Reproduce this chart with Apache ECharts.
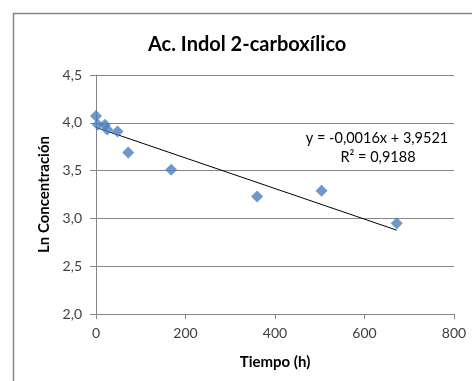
<!DOCTYPE html>
<html>
<head>
<meta charset="utf-8">
<script src="https://cdn.jsdelivr.net/npm/echarts@6/dist/echarts.min.js"></script>
<style>
  html, body { margin: 0; padding: 0; background: #fff; }
  #chart { width: 472px; height: 381px; }
</style>
</head>
<body>
<div id="chart"></div>
<script>
// Time (h) and ln of concentration for each sample
var tiempo = [0, 4, 20, 25, 48, 72, 168, 360, 504, 672];
var lnConc = [4.07, 3.98, 3.98, 3.93, 3.91, 3.69, 3.51, 3.23, 3.29, 2.95];

// Linear fit reported on the chart
var pendiente = -0.0016;
var intercepto = 3.9521;
var r2 = '0,9188';
var ecuacion = 'y = -0,0016x + 3,9521';

var xTicks = [0, 200, 400, 600, 800];
var yTicks = [2.0, 2.5, 3.0, 3.5, 4.0, 4.5];

var puntos = tiempo.map(function (t, i) { return [t, lnConc[i]]; });
var tMax = tiempo[tiempo.length - 1];
var ajuste = [[0, intercepto], [tMax, intercepto + pendiente * tMax]];

var FONT = 'Lato, "Open Sans", sans-serif';
var chart = echarts.init(document.getElementById('chart'));
chart.setOption({
  animation: false,
  backgroundColor: '#ffffff',
  title: {
    text: 'Ac. Indol 2-carboxílico',
    left: 143,
    top: 30,
    textStyle: { fontFamily: FONT, fontSize: 20, fontWeight: 'bold', color: '#000' }
  },
  grid: { left: 96, right: 18, top: 75, bottom: 67 },
  xAxis: {
    type: 'value',
    min: xTicks[0],
    max: xTicks[xTicks.length - 1],
    interval: 200,
    name: 'Tiempo (h)',
    nameLocation: 'middle',
    nameGap: 41,
    nameTextStyle: { fontFamily: FONT, fontSize: 15, fontWeight: 'bold', color: '#000' },
    axisLine: { lineStyle: { color: '#868686', width: 1 } },
    axisTick: { show: true, length: 5, lineStyle: { color: '#868686' } },
    axisLabel: { fontFamily: FONT, fontSize: 14, color: '#404040', margin: 12 },
    splitLine: { show: false }
  },
  yAxis: {
    type: 'value',
    min: yTicks[0],
    max: yTicks[yTicks.length - 1],
    interval: 0.5,
    name: 'Ln Concentración',
    nameLocation: 'middle',
    nameGap: 42,
    nameTextStyle: { fontFamily: FONT, fontSize: 15, fontWeight: 'bold', color: '#000' },
    axisLine: { show: true, lineStyle: { color: '#868686', width: 1 } },
    axisTick: { show: true, length: 6, lineStyle: { color: '#868686' } },
    axisLabel: {
      fontFamily: FONT, fontSize: 14, color: '#404040', margin: 14,
      formatter: function (v) { return v.toFixed(1).replace('.', ','); }
    },
    splitLine: { show: true, lineStyle: { color: '#868686', width: 1 } }
  },
  series: [
    {
      type: 'line',
      data: ajuste,
      showSymbol: false,
      symbol: 'none',
      lineStyle: { color: '#000', width: 1 },
      z: 3
    },
    {
      type: 'scatter',
      data: puntos,
      symbol: 'diamond',
      symbolSize: 12,
      itemStyle: { color: '#4a7ebb' },
      z: 4
    }
  ],
  graphic: [
    {
      type: 'rect',
      shape: { x: 13.5, y: 13.5, width: 480, height: 400 },
      style: { fill: 'none', stroke: '#868686', lineWidth: 1.5 },
      silent: true
    },
    {
      type: 'text',
      x: 377,
      y: 138,
      style: { text: ecuacion, font: '14.5px ' + FONT, fill: '#000', align: 'center', verticalAlign: 'middle' }
    },
    {
      type: 'text',
      x: 378,
      y: 157,
      style: { text: 'R² = ' + r2, font: '14.5px ' + FONT, fill: '#000', align: 'center', verticalAlign: 'middle' }
    }
  ]
});
</script>
</body>
</html>
